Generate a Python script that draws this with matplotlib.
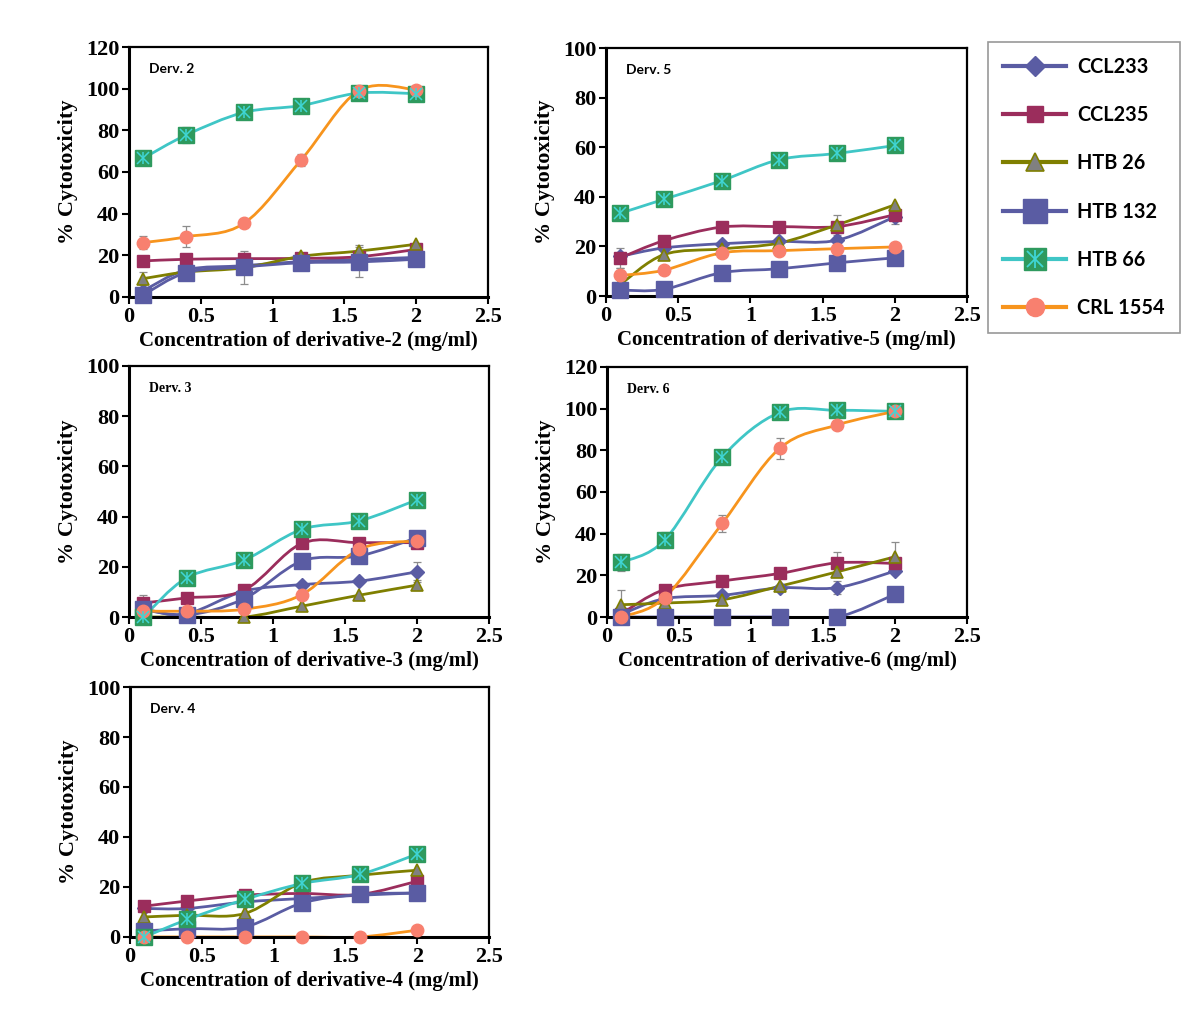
import numpy as np
import matplotlib
matplotlib.use("Agg")
import matplotlib.pyplot as plt
from matplotlib.path import Path
from matplotlib.patches import PathPatch
from matplotlib.lines import Line2D
from matplotlib.legend_handler import HandlerTuple

# Data

conc = [0.1, 0.4, 0.8, 1.2, 1.6, 2.0]
cell_lines = ["CCL233", "CCL235", "HTB 26", "HTB 132", "HTB 66", "CRL 1554"]

derv2 = {
    "CCL233":   [3, 13, 15, 17, 18, 19],
    "CCL235":   [17.3, 18.1, 18.4, 18.5, 19.3, 22.8],
    "HTB 26":   [8.8, 12, 14, 19.5, 22, 25.3],
    "HTB 132":  [1, 11.7, 14.4, 16.4, 16.8, 18.1],
    "HTB 66":   [66.6, 77.8, 88.6, 91.9, 97.9, 97.6],
    "CRL 1554": [26.1, 28.9, 35.3, 65.8, 99, 99.5],
}
derv5 = {
    "CCL233":   [16, 19.4, 21.1, 22, 22.5, 32],
    "CCL235":   [15.4, 22.3, 27.8, 28, 28, 32.8],
    "HTB 26":   [4.7, 16.7, 19, 21.4, 28.7, 36.8],
    "HTB 132":  [2.4, 2.7, 9.4, 11, 13.4, 15.4],
    "HTB 66":   [33.4, 39, 46.5, 55, 57.5, 60.7],
    "CRL 1554": [8.3, 10.4, 17.4, 18.3, 19.1, 19.8],
}
derv3 = {
    "CCL233":   [3, 1.3, 10.3, 12.9, 14.3, 18],
    "CCL235":   [5.6, 7.6, 10.7, 29.3, 29.6, 29.6],
    "HTB 26":   [0, 0, 0, 4.3, 8.7, 12.7],
    "HTB 132":  [3.3, 0.7, 7.3, 22.3, 24.3, 31.6],
    "HTB 66":   [0, 15.6, 22.7, 34.9, 38.3, 46.7],
    "CRL 1554": [2.4, 2.3, 3.1, 8.9, 27, 30.3],
}
derv6 = {
    "CCL233":   [1.3, 8.8, 10.4, 14, 14.1, 22.1],
    "CCL235":   [1.6, 13.2, 17.3, 20.9, 26, 25.7],
    "HTB 26":   [5.9, 6.7, 8.3, 14.8, 21.7, 28.9],
    "HTB 132":  [0, 0, 0, 0, 0, 10.9],
    "HTB 66":   [26.2, 36.9, 76.7, 98.2, 99.2, 98.7],
    "CRL 1554": [0, 9.3, 44.9, 81, 92.2, 98.7],
}
derv4 = {
    "CCL233":   [11.4, 11.4, 14, 15.4, 16.7, 17.6],
    "CCL235":   [12.3, 14.4, 16.7, 17.4, 17, 22.3],
    "HTB 26":   [8, 8.7, 9.4, 21.7, 24.7, 26.7],
    "HTB 132":  [2.4, 3.3, 4, 13.6, 17, 17.6],
    "HTB 66":   [0, 7, 15, 21.4, 25, 33.2],
    "CRL 1554": [0, 0, 0, 0, 0, 2.7],
}

# error bars: (cell line, concentration index, half width)
err2 = [("CRL 1554", 0, 3), ("CRL 1554", 1, 5), ("CRL 1554", 2, 1.5), ("CRL 1554", 3, 3),
        ("HTB 66", 1, 4), ("HTB 26", 0, 3), ("HTB 26", 2, 8), ("HTB 132", 4, 7), ("HTB 26", 4, 3)]
err5 = [("CCL235", 0, 4), ("CRL 1554", 0, 3), ("CCL233", 4, 3), ("HTB 26", 4, 4),
        ("CCL233", 5, 3), ("HTB 26", 2, 2)]
err3 = [("CCL235", 0, 3), ("CCL233", 5, 4), ("HTB 26", 5, 2)]
err6 = [("HTB 66", 0, 4), ("HTB 66", 1, 4), ("CRL 1554", 2, 4), ("CRL 1554", 3, 5),
        ("HTB 26", 0, 7), ("CCL235", 4, 5), ("HTB 26", 5, 7), ("HTB 132", 4, 4), ("CCL233", 4, 3)]
err4 = []

# Styles

LINE_COLORS = {
    "CCL233": "#5a5ca3", "CCL235": "#9b2d5c", "HTB 26": "#7f7f00",
    "HTB 132": "#5a5ca3", "HTB 66": "#3fc6c6", "CRL 1554": "#f7941d",
}
MARKERS = {
    "CCL233":   dict(marker="D", ms=7, mfc="#5a5ca3", mec="#5a5ca3"),
    "CCL235":   dict(marker="s", ms=8, mfc="#9b2d5c", mec="#9b2d5c"),
    "HTB 26":   dict(marker="^", ms=9, mfc="#808080", mec="#7f7f00", mew=1.2),
    "HTB 132":  dict(marker="s", ms=12, mfc="#5a5ca3", mec="#5a5ca3"),
    "HTB 66":   dict(marker="s", ms=11, mfc="#2e9a5e", mec="#2e9a5e"),
    "CRL 1554": dict(marker="o", ms=9, mfc="#f8806f", mec="#f8806f"),
}
STAR_COLOR = "#3fd6d6"
LEGEND_SCALE = 1.45

SERIF = "Liberation Serif"
SANS = "Lato"


def smooth_path(xs, ys):
    # Bezier path through the points (Catmull-Rom tangents, like a smoothed Excel line)
    pts = np.column_stack([xs, ys]).astype(float)
    n = len(pts)
    verts = [pts[0]]
    codes = [Path.MOVETO]
    for i in range(n - 1):
        p0 = pts[i - 1] if i > 0 else pts[i]
        p1 = pts[i]
        p2 = pts[i + 1]
        p3 = pts[i + 2] if i + 2 < n else pts[i + 1]
        c1 = p1 + (p2 - p0) / 6.0
        c2 = p2 - (p3 - p1) / 6.0
        verts += [c1, c2, p2]
        codes += [Path.CURVE4] * 3
    return Path(verts, codes)


def draw_panel(ax, data, errs, ymax, xlabel, tag, tag_family):
    for name in cell_lines:
        ys = data[name]
        patch = PathPatch(smooth_path(conc, ys), facecolor="none",
                          edgecolor=LINE_COLORS[name], lw=2.0, zorder=2)
        ax.add_patch(patch)
    for name, i, e in errs:
        ax.errorbar(conc[i], data[name][i], yerr=e, fmt="none", ecolor="#8c8c8c",
                    elinewidth=0.9, capsize=3, capthick=0.9, zorder=2.5)
    for name in cell_lines:
        ax.plot(conc, data[name], linestyle="none", clip_on=False, zorder=3,
                **MARKERS[name])
        if name == "HTB 66":
            ax.plot(conc, data[name], linestyle="none", marker="x", ms=8, mew=1.1,
                    color=STAR_COLOR, clip_on=False, zorder=3.1)
            ax.plot(conc, data[name], linestyle="none", marker="|", ms=9, mew=1.1,
                    color=STAR_COLOR, clip_on=False, zorder=3.1)

    ax.set_xlim(0, 2.5)
    ax.set_ylim(0, ymax)
    ax.set_xticks([0, 0.5, 1, 1.5, 2, 2.5])
    ax.set_xticklabels(["0", "0.5", "1", "1.5", "2", "2.5"])
    ax.set_yticks(np.arange(0, ymax + 1, 20))
    ax.tick_params(direction="out", length=5, width=1.5, labelsize=16, pad=2)
    for lab in ax.get_xticklabels() + ax.get_yticklabels():
        lab.set_fontfamily(SERIF)
        lab.set_fontweight("bold")
    ax.spines["left"].set_linewidth(2.2)
    ax.spines["bottom"].set_linewidth(2.2)
    ax.spines["top"].set_linewidth(1.6)
    ax.spines["right"].set_linewidth(1.6)
    ax.set_xlabel(xlabel, fontsize=15, fontweight="bold", family=SERIF, labelpad=3)
    ax.set_ylabel("% Cytotoxicity", fontsize=16, fontweight="bold", family=SERIF,
                  labelpad=6)
    ax.text(0.055, 0.935, tag, transform=ax.transAxes, fontsize=10, fontweight="bold",
            family=tag_family, va="top", ha="left")


fig = plt.figure(figsize=(12, 10.09), dpi=100)

ax2 = fig.add_axes([0.1075, 0.7057, 0.299, 0.2477])
ax5 = fig.add_axes([0.505, 0.7066, 0.301, 0.2458])
ax3 = fig.add_axes([0.1075, 0.3885, 0.300, 0.2488])
ax6 = fig.add_axes([0.5058, 0.3885, 0.300, 0.2478])
ax4 = fig.add_axes([0.1083, 0.0714, 0.2992, 0.2477])

draw_panel(ax2, derv2, err2, 120, "Concentration of derivative-2 (mg/ml)", "Derv. 2", SANS)
draw_panel(ax5, derv5, err5, 100, "Concentration of derivative-5 (mg/ml)", "Derv. 5", SANS)
draw_panel(ax3, derv3, err3, 100, "Concentration of derivative-3 (mg/ml)", "Derv. 3", SERIF)
draw_panel(ax6, derv6, err6, 120, "Concentration of derivative-6 (mg/ml)", "Derv. 6", SERIF)
draw_panel(ax4, derv4, err4, 100, "Concentration of derivative-4 (mg/ml)", "Derv. 4", SANS)

# Legend (markers drawn larger than in the plots, as in the original)

handles = []
for name in cell_lines:
    style = dict(MARKERS[name])
    style["ms"] = style["ms"] * LEGEND_SCALE
    base = Line2D([0], [0], color=LINE_COLORS[name], lw=3, **style)
    if name == "HTB 66":
        star_x = Line2D([0], [0], linestyle="none", marker="x", ms=11, mew=1.3,
                        color=STAR_COLOR)
        star_v = Line2D([0], [0], linestyle="none", marker="|", ms=13, mew=1.3,
                        color=STAR_COLOR)
        handles.append((base, star_x, star_v))
    else:
        handles.append(base)

leg = fig.legend(handles, cell_lines, loc="upper left",
                 bbox_to_anchor=(988 / 1200, 1 - 42 / 1009),
                 bbox_transform=fig.transFigure,
                 handler_map={tuple: HandlerTuple(ndivide=1, pad=0)},
                 frameon=True, fancybox=False, edgecolor="#7f7f7f",
                 handlelength=3.2, handletextpad=0.55, labelspacing=1.42,
                 borderpad=0.75, borderaxespad=0,
                 prop={"family": SANS, "weight": "bold", "size": 14.3})
leg.get_frame().set_linewidth(1.2)

fig.savefig("out.png", dpi=100)
